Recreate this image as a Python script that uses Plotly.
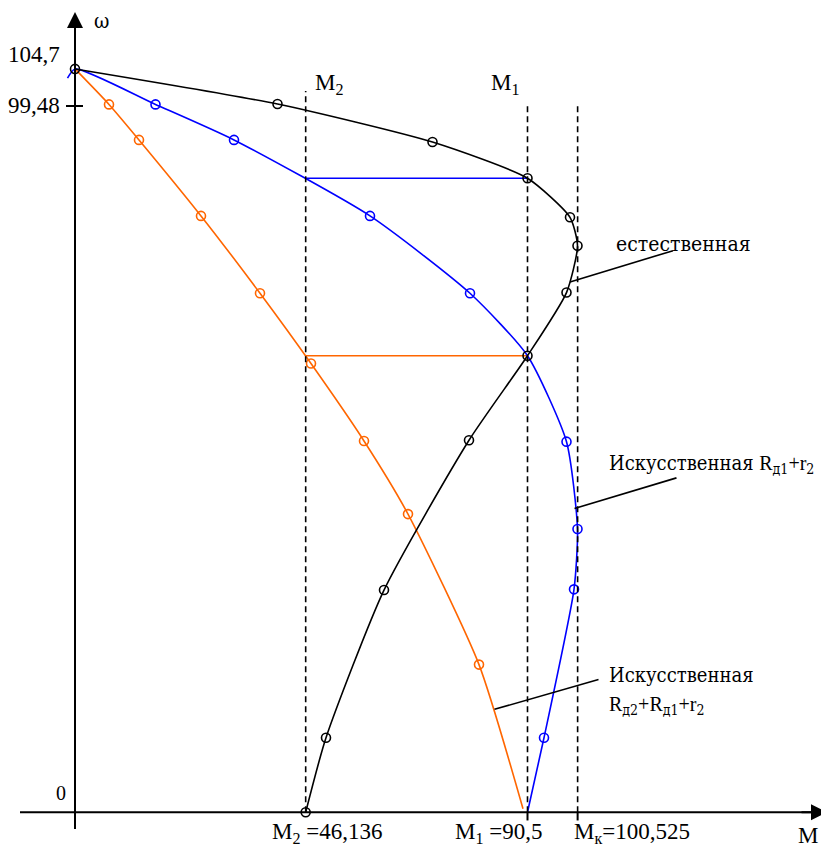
import plotly.graph_objects as go

# ---- data ----
M2 = 46.136
M1 = 90.5
MK = 100.525
W0 = 104.7
W1 = 99.48

# natural characteristic (естественная)
nat_M = [0, 40.5, 71.5, 90.5, 99.0, 100.5, 98.3, 90.5, 78.8, 61.8, 50.2, 46.136]
nat_W = [104.7, 99.76, 94.4, 89.3, 83.8, 79.8, 73.2, 64.3, 52.4, 31.3, 10.5, 0]

# artificial Rд1+r2 (blue)
b_M = [-1.5, 0, 16.1, 31.8, 59.0, 79.0, 90.5, 98.3, 100.5, 99.8, 93.8, 90.5]
b_W = [103.4, 104.7, 99.7, 94.7, 84.0, 73.1, 64.3, 52.2, 39.9, 31.4, 10.5, 0]
b_mk_M = [16.1, 31.8, 59.0, 79.0, 98.3, 100.5, 99.8, 93.8]
b_mk_W = [99.7, 94.7, 84.0, 73.1, 52.2, 39.9, 31.4, 10.5]

# artificial Rд2+Rд1+r2 (orange)
o_M = [0, 6.8, 12.8, 25.2, 37.0, 47.2, 57.8, 66.6, 80.8, 89.6]
o_W = [104.7, 99.7, 94.7, 84.0, 73.1, 63.2, 52.3, 42.0, 20.8, 0.5]

# switching levels
W_blue = 89.3
W_orange = 64.3

BLACK = "#000000"
BLUE = "#0000ff"
ORANGE = "#ff6600"
FONT = "'DejaVu Serif Condensed', 'DejaVu Serif', serif"
FONT_LAT = "'Liberation Serif', 'DejaVu Serif', serif"

fig = go.Figure()

# horizontal transition lines
fig.add_trace(go.Scatter(x=[M2, M1], y=[W_blue, W_blue], mode="lines",
                         line=dict(color=BLUE, width=1.6), hoverinfo="skip"))
fig.add_trace(go.Scatter(x=[M2, M1], y=[W_orange, W_orange], mode="lines",
                         line=dict(color=ORANGE, width=1.6), hoverinfo="skip"))

# orange curve
fig.add_trace(go.Scatter(x=o_M, y=o_W, mode="lines", line=dict(color=ORANGE, width=1.6, shape="spline", smoothing=0.6)))
fig.add_trace(go.Scatter(x=o_M[1:-1], y=o_W[1:-1], mode="markers",
                         marker=dict(symbol="circle-open", size=9, color=ORANGE, line=dict(width=1.6))))
# blue curve
fig.add_trace(go.Scatter(x=b_M, y=b_W, mode="lines", line=dict(color=BLUE, width=1.6, shape="spline", smoothing=0.6)))
fig.add_trace(go.Scatter(x=b_mk_M, y=b_mk_W, mode="markers",
                         marker=dict(symbol="circle-open", size=9, color=BLUE, line=dict(width=1.6))))
# black natural curve
fig.add_trace(go.Scatter(x=nat_M, y=nat_W, mode="lines+markers",
                         line=dict(color=BLACK, width=1.6, shape="spline", smoothing=0.6),
                         marker=dict(symbol="circle-open", size=9, color=BLACK, line=dict(width=1.6))))

shapes = []
# axes
shapes.append(dict(type="line", xref="x", yref="y", x0=-11, x1=148, y0=0, y1=0, line=dict(color=BLACK, width=2)))
shapes.append(dict(type="line", xref="x", yref="y", x0=0, x1=0, y0=-2.35, y1=111, line=dict(color=BLACK, width=2)))
# dashed verticals
for xv, ytop in [(M2, 101.6), (M1, 99.9), (MK, 99.9)]:
    shapes.append(dict(type="line", xref="x", yref="y", x0=xv, x1=xv, y0=0, y1=ytop,
                       line=dict(color=BLACK, width=1.6, dash="6px,4px")))
# ticks
shapes.append(dict(type="line", xref="x", yref="y", x0=-1.8, x1=1.6, y0=W1, y1=W1, line=dict(color=BLACK, width=2)))
for xv in [M1, MK]:
    shapes.append(dict(type="line", xref="x", yref="y", x0=xv, x1=xv, y0=0, y1=-1.15, line=dict(color=BLACK, width=2)))
# leader lines
for (xa, ya, xb, yb) in [(99.0, 74.7, 119.6, 79.1), (99.9, 42.8, 120.3, 47.1), (83.9, 14.5, 104.7, 18.7)]:
    shapes.append(dict(type="line", xref="x", yref="y", x0=xa, x1=xb, y0=ya, y1=yb, line=dict(color=BLACK, width=1.6)))

ann = []
# arrowheads
ann.append(dict(x=0, y=112.7, ax=0, ay=108, xref="x", yref="y", axref="x", ayref="y", text="",
                showarrow=True, arrowhead=2, arrowsize=1.6, arrowwidth=2, arrowcolor=BLACK))
ann.append(dict(x=150.4, y=0, ax=145, ay=0, xref="x", yref="y", axref="x", ayref="y", text="",
                showarrow=True, arrowhead=2, arrowsize=1.6, arrowwidth=2, arrowcolor=BLACK))

def txt(x, y, s, xa="left", ya="middle", size=23, yshift=0, fam=FONT_LAT):
    ann.append(dict(x=x, y=y, text=s, xref="x", yref="y", xanchor=xa, yanchor=ya, showarrow=False,
                    yshift=yshift, font=dict(family=fam, size=size, color=BLACK)))

LAT = "<span style='font-family:Liberation Serif'>%s</span>"

txt(3.4, 111.4, "ω", xa="left", size=21, fam=FONT)
txt(-2.6, W0, "104,7", xa="right", yshift=14)
txt(-2.6, W1, "99,48", xa="right")
txt(-1.4, 2.7, "0", xa="right", size=20)
txt(47.6, 102.6, "M<sub>2</sub>")
txt(82.8, 102.6, "M<sub>1</sub>")
txt(39.0, -2.9, "M<sub>2</sub> =46,136")
txt(75.6, -2.9, "M<sub>1</sub> =90,5")
txt(99.4, -2.9, "M<sub>к</sub>=100,525")
txt(149.0, -3.3, "M", xa="right")
txt(107.8, 80.0, "естественная", size=21, fam=FONT)
txt(106.4, 49.0, "Искусственная " + LAT % "R" + "<sub>д1</sub>" + LAT % "+r" + "<sub>2</sub>", size=20, fam=FONT)
txt(106.4, 19.4, "Искусственная", size=20, fam=FONT)
txt(106.4, 15.0, LAT % "R" + "<sub>д2</sub>" + LAT % "+R" + "<sub>д1</sub>" + LAT % "+r" + "<sub>2</sub>", size=20, fam=FONT)

# the page body adds an 8px offset; size the figure to fill the rest of the window
fig.update_layout(
    width=821, height=840,
    margin=dict(l=0, r=0, t=0, b=0),
    paper_bgcolor="white", plot_bgcolor="white",
    showlegend=False,
    xaxis=dict(range=[-13.4, 150.8], visible=False, fixedrange=True),
    yaxis=dict(range=[-5.03, 113.28], visible=False, fixedrange=True),
    shapes=shapes, annotations=ann,
)

fig.write_html("out.html")
